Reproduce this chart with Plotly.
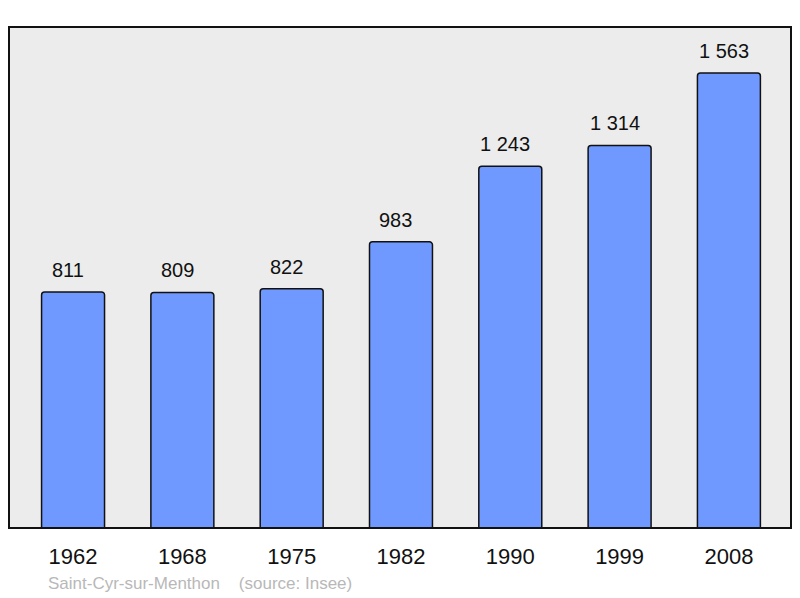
import plotly.graph_objects as go

years = ["1962", "1968", "1975", "1982", "1990", "1999", "2008"]
population = [811, 809, 822, 983, 1243, 1314, 1563]
labels = ["811", "809", "822", "983", "1 243", "1 314", "1 563"]
footer = "Saint-Cyr-sur-Menthon&nbsp;&nbsp;&nbsp;&nbsp;(source: Insee)"

xs = list(range(len(years)))
FONT = "Liberation Sans, Arial, sans-serif"

fig = go.Figure()
fig.add_trace(go.Bar(
    x=xs, y=population, width=0.576,
    marker=dict(color="#7099ff", line=dict(color="#111111", width=1.5), cornerradius=3),
    hoverinfo="skip",
))

for x, y, t in zip(xs, population, labels):
    fig.add_annotation(x=x, y=y, text=t, showarrow=False, yshift=22, xshift=-5,
                       yanchor="middle", font=dict(size=20, color="#111111", family=FONT))

fig.add_annotation(xref="paper", yref="paper", x=37/782, y=-55/501, xanchor="left",
                   yanchor="middle", text=footer, showarrow=False,
                   font=dict(size=17, color="#b8b8b8", family=FONT))

fig.add_shape(type="rect", xref="paper", yref="paper", x0=0, y0=0, x1=1, y1=1,
              line=dict(color="#111111", width=2), layer="above")

fig.update_layout(
    width=800, height=598,
    margin=dict(l=9, r=9, t=27, b=70),
    paper_bgcolor="white", plot_bgcolor="#ececec",
    showlegend=False,
    xaxis=dict(range=[-0.586, 6.568], tickvals=xs, ticktext=years, showgrid=False,
               zeroline=False, showline=False, ticks="", ticklabelstandoff=13,
               tickfont=dict(size=22, color="#111111", family=FONT),
               fixedrange=True),
    yaxis=dict(range=[0, 1721], showgrid=False, zeroline=False, showticklabels=False,
               showline=False, ticks="", fixedrange=True),
)

fig.write_html("out.html", config={"displayModeBar": False},
               post_script="document.body.style.margin='0';document.body.style.overflow='hidden';")
